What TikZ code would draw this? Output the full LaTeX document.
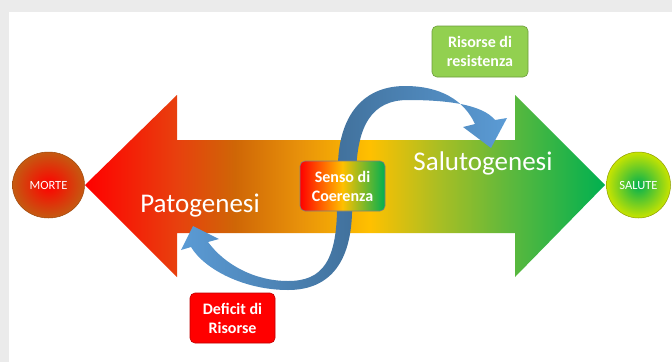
\documentclass[tikz,border=0pt]{standalone}
\usepackage{fontspec}
\setmainfont{Carlito}
\usetikzlibrary{shapes.geometric}
\definecolor{rosso}{HTML}{FF0000}
\definecolor{rossoar}{HTML}{E8400E}
\definecolor{bruno}{HTML}{CF6606}
\definecolor{arancio}{HTML}{E8920A}
\definecolor{giallo}{HTML}{FFC000}
\definecolor{oliva}{HTML}{A8BE24}
\definecolor{verdechiaro}{HTML}{58B83E}
\definecolor{verde}{HTML}{00B050}
\definecolor{verdemela}{HTML}{92D050}
\definecolor{bruciato}{HTML}{C55A11}
\definecolor{limone}{HTML}{C8E400}
\definecolor{blu}{HTML}{5B9BD5}
\definecolor{bluscuro}{HTML}{41719C}
\pgfdeclarehorizontalshading{saluto}{100bp}{color(0bp)=(rosso); color(25bp)=(rosso);
  color(33.8bp)=(rossoar); color(39.4bp)=(bruno); color(45.7bp)=(arancio);
  color(52.4bp)=(giallo); color(59.1bp)=(oliva); color(66.3bp)=(verdechiaro);
  color(75bp)=(verde); color(100bp)=(verde)}
\pgfdeclarehorizontalshading{senso}{100bp}{color(0bp)=(rosso); color(25bp)=(rosso);
  color(50bp)=(giallo); color(75bp)=(verde); color(100bp)=(verde)}
\begin{document}
\begin{tikzpicture}[x=1pt,y=-1pt,
  box/.style={draw, rounded corners=5pt, minimum width=85pt, minimum height=50pt,
    align=center, text=white, line width=0.6pt,
    font=\bfseries\fontsize{16}{19}\selectfont},
  big/.style={text=white, anchor=base, font=\fontsize{27}{30}\selectfont},
  pole/.style={ellipse, draw, line width=0.5pt, inner sep=0pt, text=white,
    font=\fontsize{12.5}{13}\selectfont}]
\useasboundingbox (0,0) rectangle (672,362);
\fill[black!8] (0,0) rectangle (672,362);
\fill[white] (9,12) rectangle (672,362);
% double arrow
\shade[shading=saluto] (85,185) -- (177,95) -- (177,140) -- (515,140) -- (515,95)
  -- (605,185) -- (515,277) -- (515,233) -- (177,233) -- (177,277) -- cycle;
% curved arrows
\shade[left color=bluscuro, right color=blu]
  (338,175) .. controls (336,120) and (360,86) .. (405,86)
  .. controls (440,86) and (464,100) .. (475,124)
  -- (463,127) -- (491,148) -- (507,118) -- (495,120)
  .. controls (482,104) and (445,100) .. (408,100)
  .. controls (372,100) and (357,125) .. (356,175) -- cycle;
\shade[left color=blu, right color=bluscuro]
  (352,200) .. controls (354,262) and (330,290) .. (288,290)
  .. controls (245,290) and (205,270) .. (191,247)
  -- (181,250) -- (193,226) -- (219,239) -- (208,242)
  .. controls (225,265) and (255,281) .. (288,281)
  .. controls (322,281) and (338,262) .. (337,200) -- cycle;
\node[big] (pato) at (200,212) {Patogenesi};
\node[big] (saluto) at (483,170) {Salutogenesi};
\node[box, shading=senso, draw=black!50] (coer) at (342.5,186) {Senso di\\Coerenza};
\node[box, fill=verdemela, draw=verdemela!75!black, minimum width=96pt,
  minimum height=51pt] (ris) at (480,51.5) {Risorse di\\resistenza};
\node[box, fill=rosso, draw=rosso!75!black] (def) at (232.5,318) {Deficit di\\Risorse};
\node[pole, inner color=rosso, outer color=bruciato, draw=bruciato!80!black,
  minimum width=72pt, minimum height=66pt] (morte) at (48.5,185) {MORTE};
\node[pole, inner color=verde, outer color=limone, draw=limone!70!black,
  minimum width=64pt, minimum height=66pt] (salute) at (638.5,185) {SALUTE};
\end{tikzpicture}
\end{document}
